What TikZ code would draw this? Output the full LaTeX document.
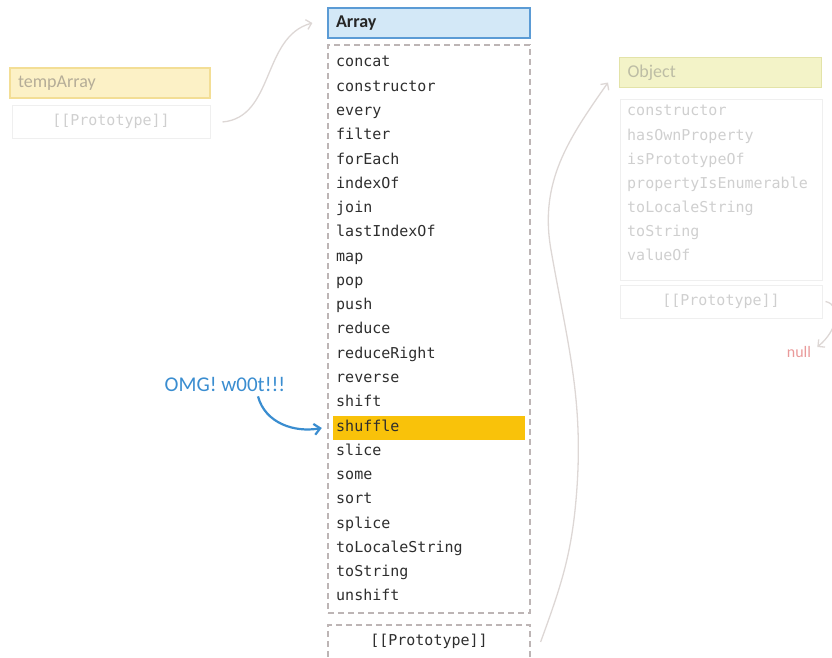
\documentclass[tikz,border=0pt]{standalone}
\usepackage{fontspec}
\setmainfont{Carlito}
\setmonofont{DejaVu Sans Mono}
\usetikzlibrary{arrows.meta}
\definecolor{arrfill}{HTML}{D3E8F7}
\definecolor{arrdraw}{HTML}{5B9BD5}
\definecolor{dashgray}{HTML}{BDB5B5}
\definecolor{itemtext}{HTML}{2E2E2E}
\definecolor{hiyellow}{HTML}{F9C20A}
\definecolor{tempfill}{HTML}{FCF1C6}
\definecolor{tempdraw}{HTML}{F3DE95}
\definecolor{temptext}{HTML}{B5AD98}
\definecolor{faintdraw}{HTML}{EFEFEF}
\definecolor{fainttext}{HTML}{CFCFCF}
\definecolor{objfill}{HTML}{F3F3C8}
\definecolor{objdraw}{HTML}{E3E3A8}
\definecolor{objtext}{HTML}{BDBDA5}
\definecolor{nullred}{HTML}{E99A9A}
\definecolor{linkgray}{HTML}{DDD7D5}
\definecolor{omgblue}{HTML}{3A8DD0}

\begin{document}
\begin{tikzpicture}[x=1pt,y=1pt,
    head/.style={draw, line width=1.2pt, minimum height=30pt, text width=186pt, inner xsep=8pt, align=left, font=\fontsize{18}{21}\selectfont},
    dashbox/.style={draw=dashgray, line width=1.2pt, dash pattern=on 6pt off 4pt, minimum width=202pt, inner sep=0pt},
    faintbox/.style={draw=faintdraw, line width=1pt, minimum width=202pt, inner sep=0pt},
    item/.style={anchor=west, inner sep=0pt, text height=11pt, text depth=3pt, font=\ttfamily\fontsize{15}{18}\selectfont},
    protolabel/.style={inner sep=0pt, text height=11pt, text depth=3pt, font=\ttfamily\fontsize{15}{18}\selectfont},
    link/.style={draw=linkgray, line width=1.3pt, -{Straight Barb[length=5pt,width=10pt]}},
  ]
  \useasboundingbox (0,0) rectangle (832,-658);
  \clip (0,0) rectangle (832,-658);

  % tempArray
  \node[head, fill=tempfill, draw=tempdraw, text=temptext, text width=184pt] (temphead) at (110,-83) {tempArray};
  \node[faintbox, protolabel, minimum width=198pt, minimum height=33pt, text=fainttext] (tempproto) at (111,-122) {[[Prototype]]};

  % Array
  \node[head, fill=arrfill, draw=arrdraw, text=black!85, font=\bfseries\fontsize{18}{21}\selectfont] (arrayhead) at (429,-23) {Array};
  \node[dashbox, minimum height=568pt] (arraybody) at (429,-329) {};
  \node[fill=hiyellow, minimum width=192pt, minimum height=24pt, inner sep=0pt] (shufbox) at (429,-428) {};
  \foreach \m [count=\i] in {concat,constructor,every,filter,forEach,indexOf,join,lastIndexOf,map,pop,push,reduce,reduceRight,reverse,shift,shuffle,slice,some,sort,splice,toLocaleString,toString,unshift}
    \node[item, text=itemtext] (m\i) at (336,{-63-24.27*(\i-1)}) {\m};
  \node[dashbox, protolabel, text depth=11pt, minimum height=40pt, text=itemtext] (arrayproto) at (429,-645) {[[Prototype]]};

  % Object
  \node[head, fill=objfill, draw=objdraw, text=objtext, line width=1pt] (objhead) at (720.5,-72.5) {Object};
  \node[faintbox, minimum height=180pt] (objbody) at (721,-190) {};
  \foreach \m [count=\i] in {constructor,hasOwnProperty,isPrototypeOf,propertyIsEnumerable,toLocaleString,toString,valueOf}
    \node[item, text=fainttext] (o\i) at (627,{-112-24*(\i-1)}) {\m};
  \node[faintbox, protolabel, minimum height=33pt, text=fainttext] (objproto) at (721,-301.5) {[[Prototype]]};
  \node[inner sep=0pt, text=nullred, font=\fontsize{16}{19}\selectfont] (null) at (799,-352) {null};

  % annotation
  \node[inner sep=0pt, text=omgblue, font=\fontsize{21}{25}\selectfont] (omg) at (225,-384) {OMG! w00t!!!};

  % prototype links
  \draw[link] ([xshift=12pt]tempproto.east) to[out=5,in=195] ([xshift=-15pt]arrayhead.west);
  \draw[link] ([xshift=10pt,yshift=3pt]arrayproto.east) to[out=70,in=-95] (576,-500) to[out=85,in=-80] (551,-250) to[out=100,in=-125] ([xshift=-11pt,yshift=-10pt]objhead.west);
  \draw[link] ([xshift=3pt]objproto.east) .. controls (842,-305) and (838,-330) .. ([xshift=6pt,yshift=5pt]null.east);
  \draw[draw=omgblue, line width=2.2pt, -{Straight Barb[length=6pt,width=11pt]}] ([xshift=33pt,yshift=-5pt]omg.south) to[out=-75,in=190] ([xshift=-11pt]shufbox.west);
\end{tikzpicture}
\end{document}
